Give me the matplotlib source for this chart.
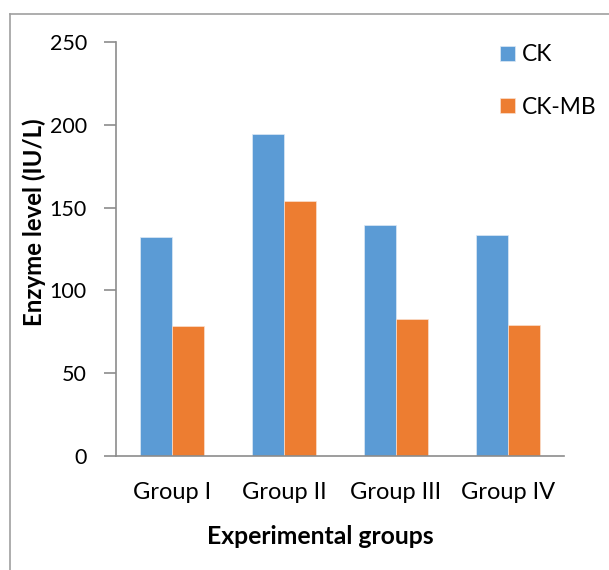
import matplotlib
matplotlib.use("Agg")
import matplotlib.pyplot as plt
import numpy as np
from matplotlib.lines import Line2D

groups = ["Group I", "Group II", "Group III", "Group IV"]
ck = [132.5, 194.5, 139.5, 133.5]
ck_mb = [78.5, 154, 82.5, 79]
yticks = [0, 50, 100, 150, 200, 250]

BLUE = "#5B9BD5"
ORANGE = "#ED7D31"
AXIS = "#8C8C8C"

plt.rcParams["font.family"] = ["Lato", "DejaVu Sans"]

fig = plt.figure(figsize=(6.09, 5.70), dpi=100)
ax = fig.add_axes([116/609, 1 - 456/570, (564 - 116)/609, (456 - 42)/570])

x = np.arange(len(groups))
w = 32/112
ax.bar(x - w/2, ck, w, color=BLUE, edgecolor="#DDE9F5", lw=0.5, label="CK")
ax.bar(x + w/2, ck_mb, w, color=ORANGE, edgecolor="#FAE0D0", lw=0.5, label="CK-MB")

ax.set_xlim(-0.5, len(groups) - 0.5)
ax.set_ylim(0, 250)
ax.set_yticks(yticks)
ax.set_xticks(x)
ax.set_xticklabels(groups, fontsize=17)
ax.tick_params(axis="y", length=9, width=1.2, color=AXIS, pad=12, labelsize=15.5)
ax.tick_params(axis="x", length=0, pad=19)
for s in ["top", "right"]:
    ax.spines[s].set_visible(False)
for s in ["left", "bottom"]:
    ax.spines[s].set_color(AXIS)
    ax.spines[s].set_linewidth(1.2)

fig.text(34/609, 1 - 222/570, "Enzyme level (IU/L)", rotation=90, ha="center", va="center",
         fontsize=17.3, weight="bold")
fig.text(320/609, 1 - 536/570, "Experimental groups", ha="center", va="center",
         fontsize=17.8, weight="bold")

ax.legend(loc="upper left", bbox_to_anchor=(489/609, 1 - 33/570), bbox_transform=fig.transFigure,
          frameon=False, fontsize=16.4, handlelength=0.65, handleheight=0.65,
          handletextpad=0.3, labelspacing=1.38, borderpad=0)

# chart-area border (top and left edges)
fig.add_artist(Line2D([10/609, 1], [1 - 14/570] * 2, color="#A0A0A0", lw=1.2, transform=fig.transFigure))
fig.add_artist(Line2D([10/609] * 2, [0, 1 - 14/570], color="#A0A0A0", lw=1.2, transform=fig.transFigure))

fig.savefig("out.png", dpi=100)
